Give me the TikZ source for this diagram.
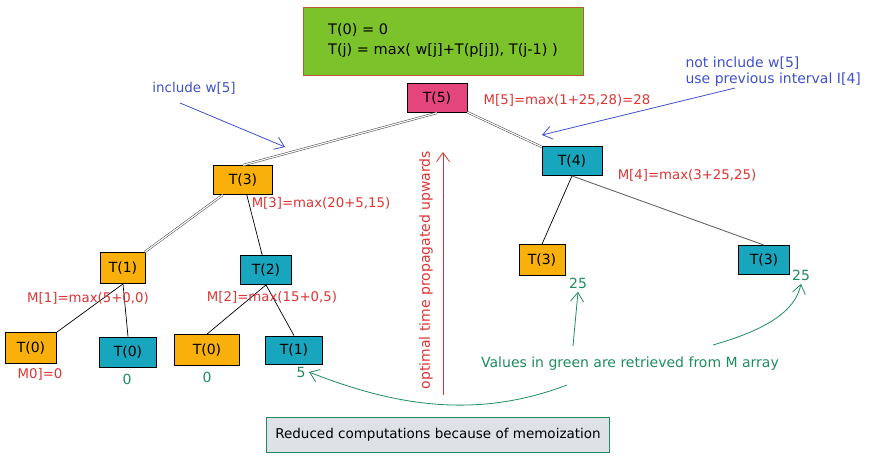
\documentclass[tikz,border=0pt]{standalone}
\usepackage{fontspec}
\setmainfont{DejaVu Sans}
\usepackage{xcolor}
\usetikzlibrary{arrows.meta}

\definecolor{recgreen}{HTML}{7CC22A}
\definecolor{recborder}{HTML}{B8583A}
\definecolor{boxorange}{HTML}{F9B00A}
\definecolor{boxteal}{HTML}{17A6BE}
\definecolor{boxpink}{HTML}{E4457C}
\definecolor{memored}{HTML}{DD3434}
\definecolor{keptgreen}{HTML}{1E8C5E}
\definecolor{noteblue}{HTML}{3F51C9}
\definecolor{notegray}{HTML}{DEE2E6}

\begin{document}
\begin{tikzpicture}[x=1pt, y=-1pt, >={Straight Barb[length=9pt, width=13pt]},
    box/.style={draw=black, thick, minimum height=29pt, inner sep=2pt, font=\fontsize{14}{16}\selectfont},
    orangebox/.style={box, fill=boxorange},
    tealbox/.style={box, fill=boxteal},
    memo/.style={text=memored, font=\fontsize{13.3}{15}\selectfont},
    kept/.style={text=keptgreen, font=\fontsize{14}{16}\selectfont},
    note/.style={text=noteblue, font=\fontsize{14}{16}\selectfont},
    twin/.style={draw=black!75, double=white, double distance=1.2pt, line width=0.5pt},
    edge/.style={draw=black, line width=0.7pt}]
    \useasboundingbox (0,0) rectangle (880,459);

    % Recurrence
    \node[draw=recborder, thick, fill=recgreen, minimum width=280pt, minimum height=68pt, align=left,
          font=\fontsize{14.5}{20}\selectfont] (rec) at (443,41) {T(0) = 0\\T(j) = max( w[j]+T(p[j]), T(j-1) )};

    % Tree
    \node[box, fill=boxpink, minimum width=60pt] (T5) at (437,98) {T(5)};
    \node[tealbox, minimum width=60pt] (T4) at (572,161) {T(4)};
    \node[orangebox, minimum width=59pt] (T3a) at (243,180) {T(3)};
    \node[orangebox, minimum width=45pt, minimum height=31pt] (T1a) at (123,268) {T(1)};
    \node[tealbox, minimum width=51pt] (T2) at (266,270) {T(2)};
    \node[orangebox, minimum width=51pt, minimum height=31pt] (T0a) at (31,348) {T(0)};
    \node[tealbox, minimum width=57pt, minimum height=30pt] (T0b) at (128,352) {T(0)};
    \node[orangebox, minimum width=65pt, minimum height=31pt] (T0c) at (207,350) {T(0)};
    \node[tealbox, minimum width=57pt, minimum height=28pt] (T1b) at (294,350) {T(1)};
    \node[orangebox, minimum width=46pt, minimum height=31pt] (T3b) at (542,260) {T(3)};
    \node[tealbox, minimum width=51pt] (T3c) at (764,260) {T(3)};

    % Lines
    \draw[twin] (T5.south) -- (T3a.north);
    \draw[twin] (T5) -- (T4);
    \draw[twin] (T3a) -- (T1a);
    \draw[edge] (T3a) -- (T2);
    \draw[edge] (T1a.south) -- (T0a.north east);
    \draw[edge] (T1a.south) -- (T0b.north);
    \draw[edge] (T2.south) -- (T0c.north);
    \draw[edge] (T2.south) -- (T1b.north);
    \draw[edge] (T4.south) -- (T3b.north);
    \draw[draw=black!60, line width=0.9pt] (T4.south) -- (T3c.north);

    % Memo values
    \node[memo] (m5) at (567,100) {M[5]=max(1+25,28)=28};
    \node[memo] (m4) at (687,175) {M[4]=max(3+25,25)};
    \node[memo] (m3) at (321,203) {M[3]=max(20+5,15)};
    \node[memo] (m1) at (88,298) {M[1]=max(5+0,0)};
    \node[memo] (m2) at (272,297) {M[2]=max(15+0,5)};
    \node[memo] (m0) at (40,374) {M0]=0};

    % Retrieved values
    \node[kept] (v0b) at (127,379) {0};
    \node[kept] (v0c) at (207,377) {0};
    \node[kept] (v1b) at (301,372) {5};
    \node[kept] (v3b) at (578,283) {25};
    \node[kept] (v3c) at (801,275) {25};

    % Notes
    \node[note, font=\fontsize{13.5}{15}\selectfont] (inc) at (194,88) {include w[5]};
    \coordinate (incTip) at (285,147);
    \draw[->, noteblue, line width=0.8pt] (180,103) -- (incTip);
    \node[note, align=left, anchor=north west] (skip) at (682,53) {not include w[5]\\use previous interval I[4]};
    \coordinate (skipTip) at (542,135);
    \draw[->, noteblue, line width=0.8pt] (735,88) -- (skipTip);

    % Upwards arrow
    \coordinate (upStart) at (443,395);
    \coordinate (upTip) at (443,152);
    \draw[->, memored, line width=0.8pt] (upStart) -- (upTip);
    \node[memo, font=\fontsize{14}{16}\selectfont, rotate=90] (up) at (426,270) {optimal time propagated upwards};

    % Green notes
    \node[kept] (green) at (630,364) {Values in green are retrieved from M array};
    \draw[->, keptgreen, line width=0.8pt] (573,346) -- (v3b.south);
    \draw[->, keptgreen, line width=0.8pt] (713,345) .. controls (765,330) and (795,312) .. (v3c.south);

    % Memoization
    \node[draw=keptgreen, thick, fill=notegray, minimum width=343pt, minimum height=35pt,
          font=\fontsize{13.5}{15}\selectfont] (memo) at (438,435) {Reduced computations because of memoization};
    \draw[->, keptgreen, line width=0.8pt] (567,385) .. controls (480,418) and (400,408) .. (v1b.east);
\end{tikzpicture}
\end{document}
